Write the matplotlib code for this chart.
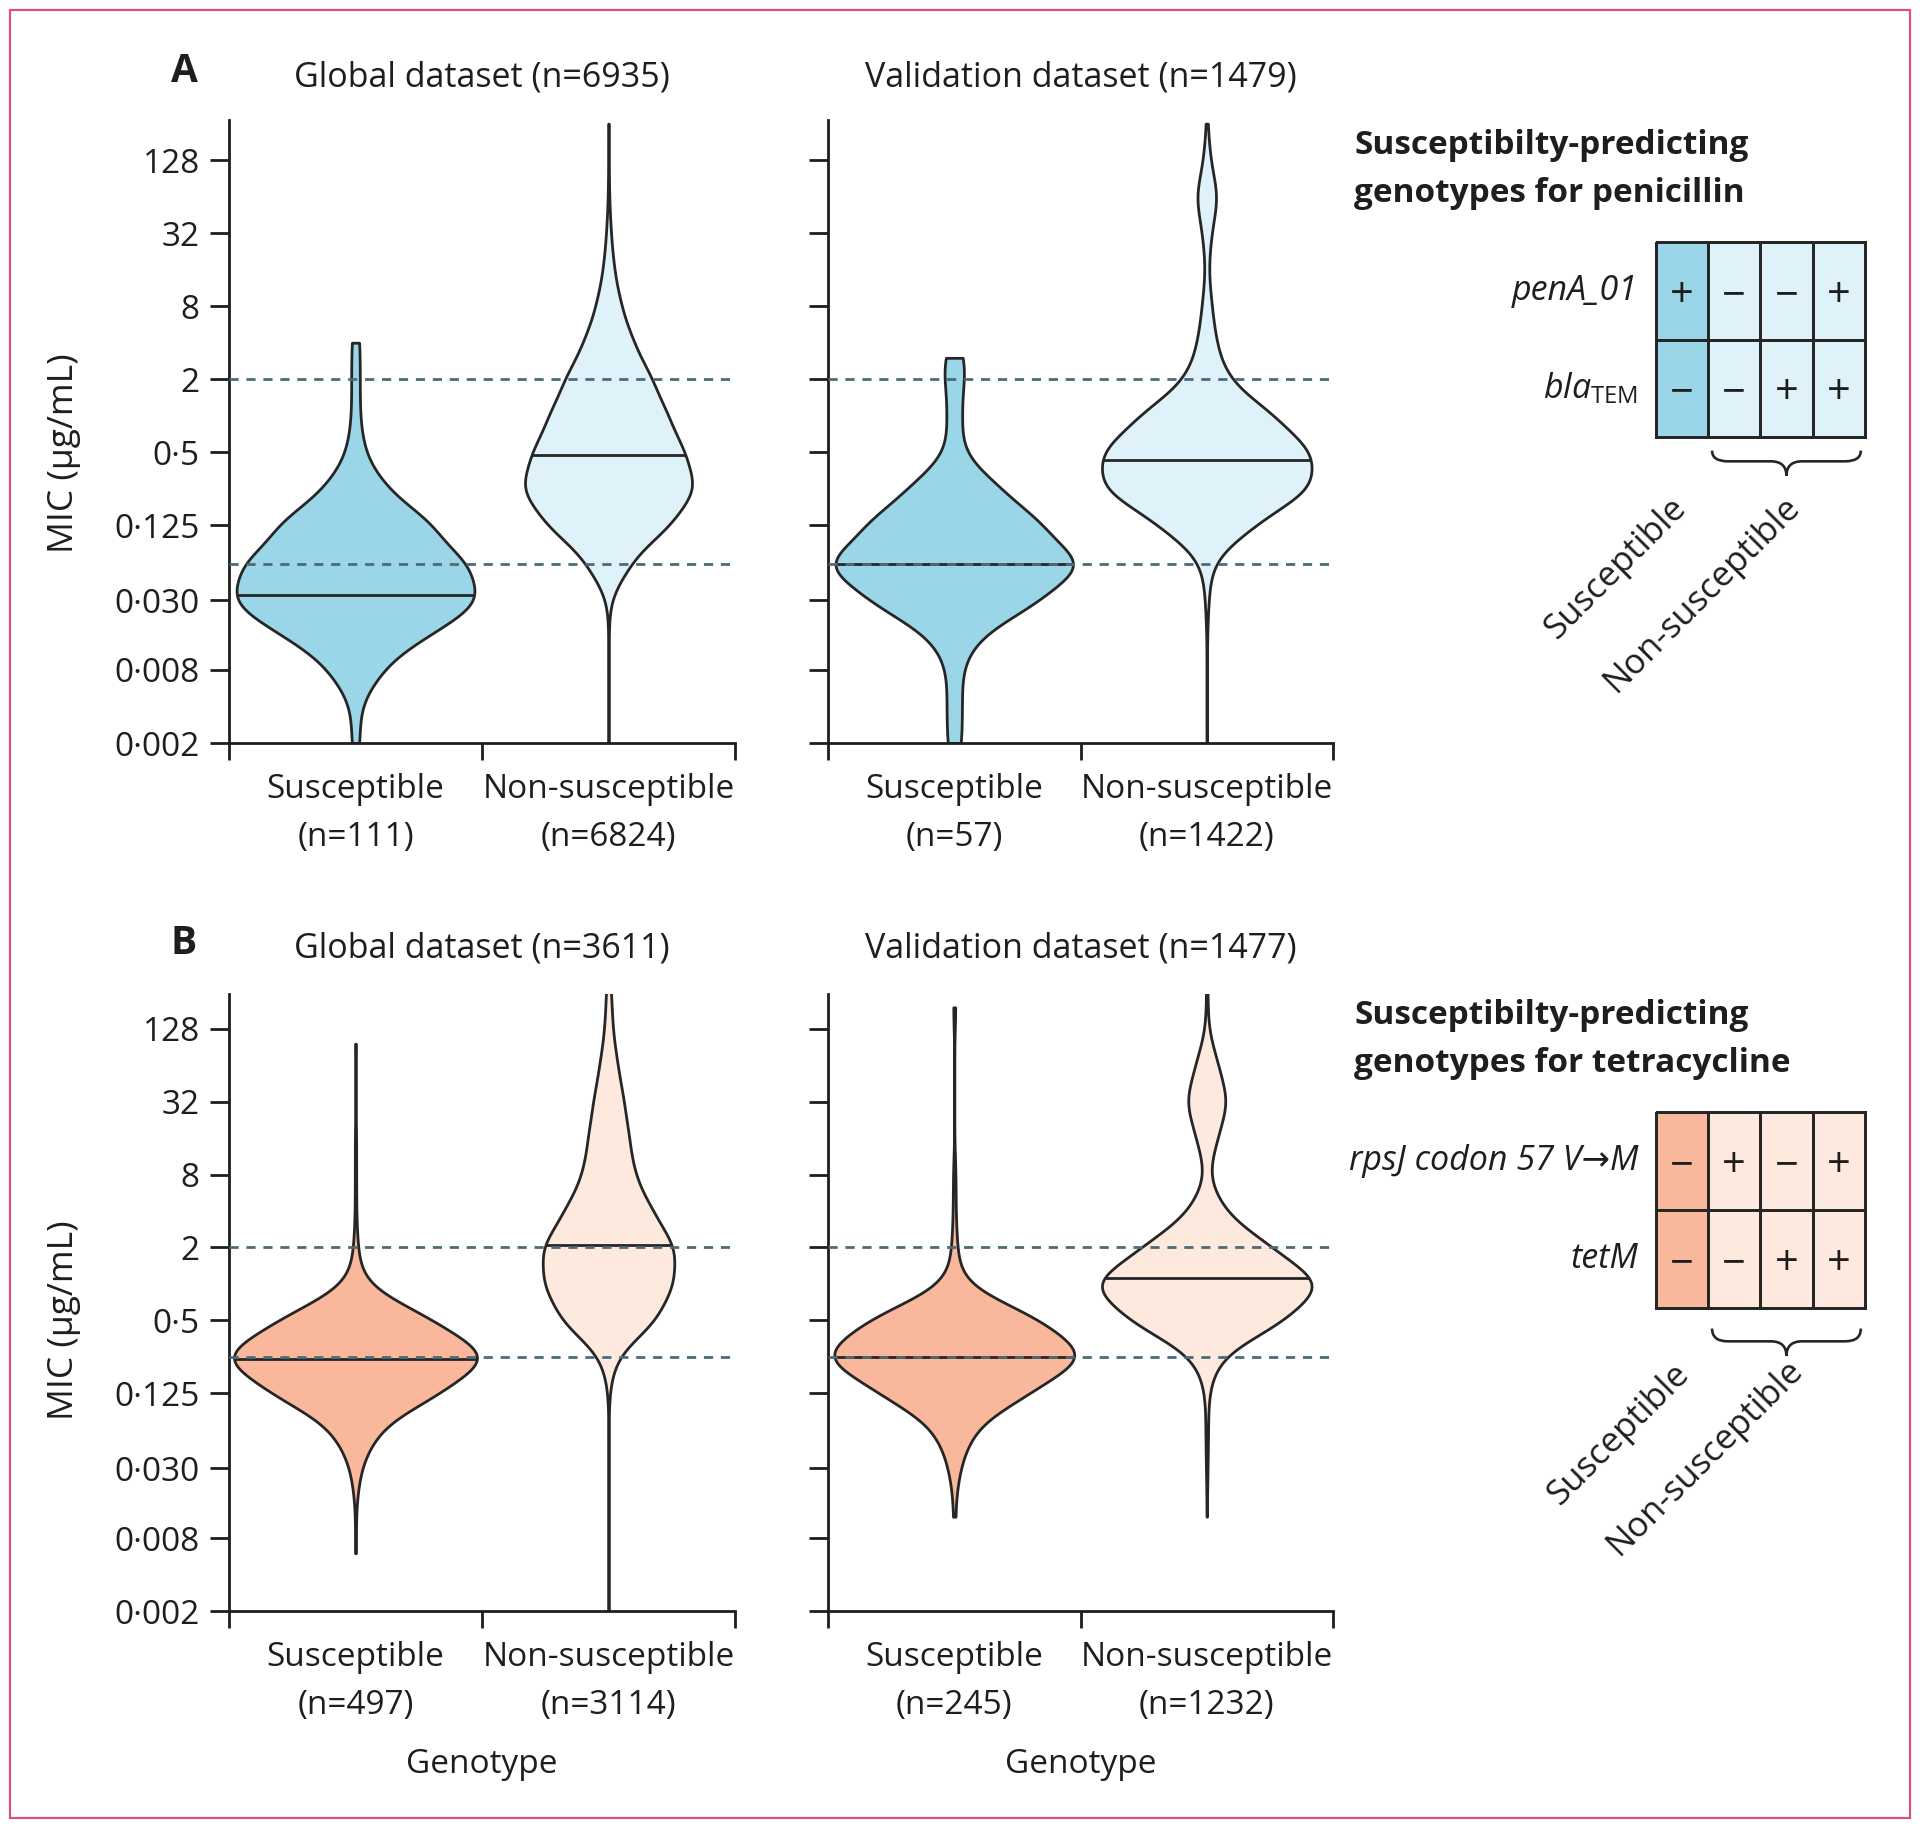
import numpy as np
import matplotlib.pyplot as plt
from matplotlib.colors import ListedColormap
from matplotlib.path import Path
from matplotlib.patches import PathPatch, Rectangle
import matplotlib.transforms as mtransforms

plt.rcParams['font.family'] = ['Open Sans', 'DejaVu Sans']
plt.rcParams['mathtext.fontset'] = 'custom'
plt.rcParams['mathtext.rm'] = 'Open Sans'
plt.rcParams['mathtext.it'] = 'Open Sans:italic'
plt.rcParams['text.color'] = '#1e1e1e'
plt.rcParams['axes.edgecolor'] = '#1e1e1e'
plt.rcParams['xtick.color'] = '#1e1e1e'
plt.rcParams['ytick.color'] = '#1e1e1e'

# MIC distributions (ug/mL -> number of isolates)
# penicillin, global dataset
pen_glob_s_mic = [0.002, 0.004, 0.008, 0.016, 0.03, 0.06, 0.125, 0.25, 0.5, 1, 2, 4]
pen_glob_s_n = [1, 1, 6, 16, 29, 27, 19, 7, 2, 1, 1, 1]
pen_glob_ns_mic = [0.002, 0.004, 0.008, 0.016, 0.03, 0.06, 0.125, 0.25, 0.5, 1, 2, 4, 8, 16, 32, 64, 128, 256]
pen_glob_ns_n = [2, 2, 2, 5, 11, 369, 1070, 1523, 1299, 1009, 748, 421, 212, 92, 39, 10, 5, 5]
# penicillin, validation dataset
pen_val_s_mic = [0.002, 0.004, 0.008, 0.016, 0.03, 0.06, 0.125, 0.25, 0.5, 1, 2, 3]
pen_val_s_n = [1, 1, 1, 3, 11, 18, 12, 6, 1, 1, 1, 1]
pen_val_ns_mic = [0.002, 0.004, 0.008, 0.016, 0.03, 0.06, 0.125, 0.25, 0.5, 1, 2, 4, 8, 16, 32, 64, 128, 256]
pen_val_ns_n = [1, 1, 1, 1, 6, 18, 167, 390, 388, 245, 73, 34, 18, 5, 16, 43, 12, 3]
# tetracycline, global dataset
tet_glob_s_mic = [0.006, 0.016, 0.03, 0.06, 0.125, 0.25, 0.5, 1, 2, 4, 8, 16, 96]
tet_glob_s_n = [1, 1, 7, 31, 122, 205, 113, 10, 3, 1, 1, 1, 1]
tet_glob_ns_mic = [0.002, 0.004, 0.008, 0.016, 0.03, 0.06, 0.125, 0.25, 0.5, 1, 2, 4, 8, 16, 32, 64, 128, 256]
tet_glob_ns_n = [1, 1, 1, 1, 1, 1, 5, 67, 488, 657, 681, 437, 255, 207, 155, 90, 39, 27]
# tetracycline, validation dataset
tet_val_s_mic = [0.012, 0.03, 0.06, 0.125, 0.25, 0.5, 1, 2, 4, 8, 192]
tet_val_s_n = [1, 4, 13, 53, 100, 64, 5, 2, 1, 1, 1]
tet_val_ns_mic = [0.012, 0.03, 0.06, 0.125, 0.25, 0.5, 1, 2, 4, 8, 16, 32, 64, 128, 256]
tet_val_ns_n = [1, 3, 5, 6, 41, 283, 436, 230, 58, 3, 38, 80, 41, 4, 3]

# medians (S global, NS global, S validation, NS validation)
pen_medians = [0.033, 0.47, 0.06, 0.43]
tet_medians = [0.24, 2.1, 0.25, 1.12]

# breakpoints (susceptible / resistant)
pen_breakpoints = [0.06, 2]
tet_breakpoints = [0.25, 2]

mic_ticks = [0.002, 0.008, 0.03, 0.125, 0.5, 2, 8, 32, 128]
mic_tick_labels = ['0·002', '0·008', '0·030', '0·125', '0·5', '2', '8', '32', '128']

categories = ['Susceptible', 'Non-susceptible']

# genotype tables
genotype_class = ['Susceptible', 'Non-susceptible', 'Non-susceptible', 'Non-susceptible']
pen_penA = ['+', '−', '−', '+']
pen_bla = ['−', '−', '+', '+']
tet_rpsJ = ['−', '+', '−', '+']
tet_tetM = ['−', '−', '+', '+']

# style
PEN_COLORS = ['#9bd6e8', '#e0f2f9']
TET_COLORS = ['#f9b89c', '#fde9de']
EDGE = '#262626'
DASH = '#4b6b78'
BW = 0.6  # kde bandwidth in log2 units
LW = 2.0

fig = plt.figure(figsize=(19.2, 18.28), dpi=100)


def kde_bw(kde):
    return BW / np.std(kde.dataset, ddof=1)


def draw_panel(rect, groups, widths, medians, colors, breakpoints, title, ytop, show_ylab, title_y):
    ax = fig.add_axes(rect)
    data = [np.repeat(np.log2(m), n) for m, n in groups]
    pos = [0.5, 1.5]
    parts = ax.violinplot(data, positions=pos, widths=widths, showextrema=False,
                          points=800, bw_method=kde_bw)
    for pc, col, p, med in zip(parts['bodies'], colors, pos, medians):
        pc.set_facecolor(col)
        pc.set_edgecolor(EDGE)
        pc.set_linewidth(LW)
        pc.set_alpha(1)
        pc.set_zorder(2)
        # median line spans the violin at that height
        v = pc.get_paths()[0].vertices
        right = v[v[:, 0] > p]
        order = np.argsort(right[:, 1])
        ym = np.log2(med)
        half = np.interp(ym, right[order, 1], right[order, 0]) - p
        ax.plot([p - half, p + half], [ym, ym], color=EDGE, lw=LW, zorder=3,
                solid_capstyle='butt')
    for bp in breakpoints:
        ax.axhline(np.log2(bp), color=DASH, lw=LW, dashes=(3.3, 2.8), zorder=4)

    ax.set_xlim(0, 2)
    ax.set_ylim(np.log2(mic_ticks[0]), ytop)
    ax.spines[['top', 'right']].set_visible(False)
    ax.spines[['left', 'bottom']].set_linewidth(LW)
    ax.set_xticks([0, 1, 2])
    ax.set_xticklabels([])
    ax.tick_params(axis='x', length=12, width=LW)
    ax.set_yticks(np.log2(mic_ticks))
    ax.set_yticklabels(mic_tick_labels if show_ylab else [])
    ax.tick_params(axis='y', length=14, width=LW, pad=7, labelsize=24)

    for p, cat, (m, n) in zip(pos, categories, groups):
        ax.text(p, -0.1135, f'{cat}\n(n={sum(n)})', transform=ax.get_xaxis_transform(),
                ha='center', va='center', fontsize=24, linespacing=1.6)
    total = sum(sum(n) for m, n in groups)
    ax.text(0.5, title_y, f'{title} (n={total})', transform=ax.transAxes,
            ha='center', va='center', fontsize=24.5)
    return ax


def brace(ax, x0, x1, yt, ym, yb, r=0.3):
    xc = (x0 + x1) / 2
    verts = [(x0, yt), (x0, ym), (x0 + r, ym), (xc - r, ym), (xc, ym), (xc, yb),
             (xc, ym), (xc + r, ym), (x1 - r, ym), (x1, ym), (x1, yt)]
    codes = [Path.MOVETO, Path.CURVE3, Path.CURVE3, Path.LINETO, Path.CURVE3, Path.CURVE3,
             Path.CURVE3, Path.CURVE3, Path.LINETO, Path.CURVE3, Path.CURVE3]
    trans = mtransforms.blended_transform_factory(ax.transData, ax.transAxes)
    ax.add_patch(PathPatch(Path(verts, codes), fill=False, edgecolor=EDGE, lw=1.9,
                           transform=trans, clip_on=False))


def draw_table(rect, rows, row_labels, colors, brace_y, label_pos):
    tax = fig.add_axes(rect)
    status = np.array([[0 if c == 'Susceptible' else 1 for c in genotype_class]] * len(rows))
    mesh = tax.pcolormesh(status, cmap=ListedColormap(colors), vmin=0, vmax=1,
                          edgecolors=EDGE, linewidth=LW)
    mesh.set_clip_on(False)
    tax.set_xlim(0, len(genotype_class))
    tax.set_ylim(len(rows), 0)
    tax.set_axis_off()
    for i, (signs, lab) in enumerate(zip(rows, row_labels)):
        for j, s in enumerate(signs):
            tax.text(j + 0.5, i + 0.5, s, ha='center', va='center_baseline', fontsize=30)
        tax.text(-0.33, i + 0.5, lab, ha='right', va='center', fontsize=24.5, style='italic')
    ns_cols = [j for j, c in enumerate(genotype_class) if c != 'Susceptible']
    brace(tax, ns_cols[0] + 0.08, ns_cols[-1] + 0.92, *brace_y)
    trans = mtransforms.blended_transform_factory(tax.transData, tax.transAxes)
    for cat, (x, y) in zip(categories, label_pos):
        tax.text(x, y, cat, rotation=45, rotation_mode='anchor',
                 ha='right', va='top', fontsize=25, transform=trans)
    return tax


W, H = 1920, 1828
def frect(x0, y0, x1, y1):
    return [x0 / W, 1 - y1 / H, (x1 - x0) / W, (y1 - y0) / H]


# row A: penicillin
draw_panel(frect(229, 120, 735, 743), [(pen_glob_s_mic, pen_glob_s_n), (pen_glob_ns_mic, pen_glob_ns_n)],
           [0.94, 0.66], pen_medians[:2], PEN_COLORS, pen_breakpoints, 'Global dataset', 8.1, True, 1.0687)
draw_panel(frect(828, 120, 1333, 743), [(pen_val_s_mic, pen_val_s_n), (pen_val_ns_mic, pen_val_ns_n)],
           [0.94, 0.83], pen_medians[2:], PEN_COLORS, pen_breakpoints, 'Validation dataset', 8.1, False, 1.0687)
# row B: tetracycline
axb1 = draw_panel(frect(229, 994, 735, 1611), [(tet_glob_s_mic, tet_glob_s_n), (tet_glob_ns_mic, tet_glob_ns_n)],
                  [0.96, 0.52], tet_medians[:2], TET_COLORS, tet_breakpoints, 'Global dataset', 7.95, True, 1.073)
axb2 = draw_panel(frect(828, 994, 1333, 1611), [(tet_val_s_mic, tet_val_s_n), (tet_val_ns_mic, tet_val_ns_n)],
                  [0.95, 0.83], tet_medians[2:], TET_COLORS, tet_breakpoints, 'Validation dataset', 7.95, False, 1.073)
for ax in (axb1, axb2):
    ax.text(0.5, -0.249, 'Genotype', transform=ax.transAxes, ha='center', va='center', fontsize=24)

# y labels and panel letters
fig.text(64 / W, 1 - 453 / H, 'MIC (µg/mL)', rotation=90, ha='center', va='center', fontsize=25.5)
fig.text(64 / W, 1 - 1320 / H, 'MIC (µg/mL)', rotation=90, ha='center', va='center', fontsize=25.5)
fig.text(184 / W, 1 - 71 / H, 'A', ha='center', va='center', fontsize=28, fontweight='bold')
fig.text(184 / W, 1 - 943 / H, 'B', ha='center', va='center', fontsize=28, fontweight='bold')

# genotype tables
fig.text(1354 / W, 1 - 145 / H, 'Susceptibilty-predicting', ha='left', va='center', fontsize=24, fontweight='bold')
fig.text(1354 / W, 1 - 194 / H, 'genotypes for penicillin', ha='left', va='center', fontsize=24, fontweight='bold')
draw_table(frect(1655.5, 242.5, 1865, 437), [pen_penA, pen_bla],
           ['penA_01', r'$\mathit{bla}_{\mathrm{TEM}}$'], PEN_COLORS,
           (-0.07, -0.125, -0.2), [(0.26, -0.278), (2.44, -0.273)])

fig.text(1354 / W, 1 - 1015 / H, 'Susceptibilty-predicting', ha='left', va='center', fontsize=24, fontweight='bold')
fig.text(1354 / W, 1 - 1063 / H, 'genotypes for tetracycline', ha='left', va='center', fontsize=24, fontweight='bold')
draw_table(frect(1655.5, 1112, 1865, 1308), [tet_rpsJ, tet_tetM],
           ['rpsJ codon 57 V→M', 'tetM'], TET_COLORS,
           (-0.105, -0.17, -0.245), [(0.31, -0.25), (2.49, -0.23)])

# outer frame
fig.patches.append(Rectangle((10 / W, 10 / H), 1900 / W, 1808 / H, transform=fig.transFigure,
                             fill=False, edgecolor='#d9507b', linewidth=1.6))

fig.savefig('out.png', dpi=100)
